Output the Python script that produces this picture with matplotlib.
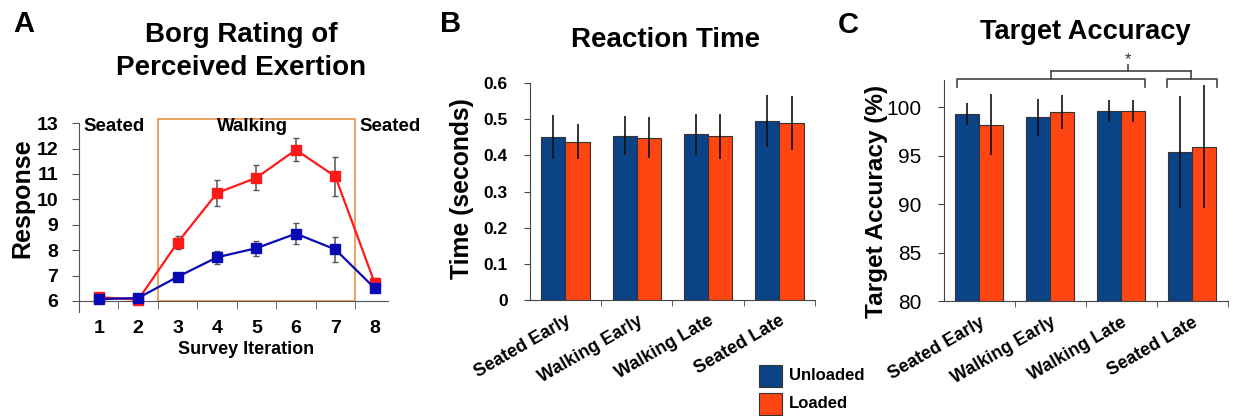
import matplotlib
matplotlib.use("Agg")
import matplotlib.pyplot as plt
from matplotlib.patches import Rectangle
import numpy as np

plt.rcParams['font.family'] = ['Liberation Sans', 'DejaVu Sans']

# ---- Panel A data ----
iterations = [1, 2, 3, 4, 5, 6, 7, 8]
borg_loaded = [6.15, 6.05, 8.3, 10.25, 10.85, 11.95, 10.9, 6.7]
borg_loaded_err = [0.08, 0.05, 0.25, 0.52, 0.5, 0.45, 0.78, 0.2]
borg_unloaded = [6.07, 6.12, 6.95, 7.72, 8.08, 8.65, 8.03, 6.5]
borg_unloaded_err = [0.05, 0.05, 0.1, 0.25, 0.3, 0.4, 0.5, 0.1]

# ---- Panel B/C data ----
conditions = ["Seated Early", "Walking Early", "Walking Late", "Seated Late"]
rt_unloaded = [0.450, 0.455, 0.458, 0.495]
rt_unloaded_err = [0.061, 0.054, 0.058, 0.072]
rt_loaded = [0.438, 0.449, 0.453, 0.490]
rt_loaded_err = [0.048, 0.057, 0.063, 0.075]

acc_unloaded = [99.3, 98.95, 99.6, 95.4]
acc_unloaded_err = [1.1, 1.9, 1.1, 5.75]
acc_loaded = [98.2, 99.5, 99.6, 95.9]
acc_loaded_err = [3.1, 1.75, 1.1, 6.35]

BLUE_LINE = '#0a0ab4'
RED_LINE = '#ff1a1a'
BAR_BLUE = '#0a4386'
BAR_ORANGE = '#ff4512'

fig = plt.figure(figsize=(12.35, 4.16), dpi=100)

# ================= Panel A =================
axA = fig.add_axes([0.064, 0.249, 0.250, 0.455])
axA.errorbar(iterations, borg_loaded, yerr=borg_loaded_err, color=RED_LINE, lw=1.6,
             marker='s', ms=7.5, mfc=RED_LINE, mec=RED_LINE, ecolor='#555555',
             elinewidth=1.1, capsize=2.5, capthick=1.0, zorder=3)
axA.errorbar(iterations, borg_unloaded, yerr=borg_unloaded_err, color=BLUE_LINE, lw=1.6,
             marker='s', ms=7, mfc=BLUE_LINE, mec=BLUE_LINE, ecolor='#555555',
             elinewidth=1.1, capsize=2.5, capthick=1.0, zorder=4)
axA.set_xlim(0.5, 8.33)
axA.set_ylim(5.55, 13)
axA.spines['top'].set_visible(False)
axA.spines['right'].set_visible(False)
axA.spines['bottom'].set_position(('data', 6))
axA.spines['bottom'].set_color('#555555')
axA.spines['left'].set_color('#555555')
axA.set_yticks(range(6, 14))
axA.set_xticks(iterations)
axA.set_xticks(np.arange(1.5, 8.5, 1.0), minor=True)
axA.tick_params(axis='x', which='major', length=0, pad=14, labelsize=14)
axA.tick_params(axis='x', which='minor', length=6, direction='out', color='#555555')
axA.tick_params(axis='y', length=5, color='#555555', labelsize=14, pad=10)
for lab in axA.get_xticklabels() + axA.get_yticklabels():
    lab.set_fontweight('bold')
axA.add_patch(Rectangle((2.5, 6), 5.0, 7.15, fill=False, edgecolor='#e8924a', lw=1.2,
                        clip_on=False, zorder=1))
axA.text(0.62, 12.85, "Seated", fontsize=13.5, fontweight='bold', va='center', ha='left')
axA.text(4.9, 12.85, "Walking", fontsize=13.5, fontweight='bold', va='center', ha='center')
axA.text(7.62, 12.85, "Seated", fontsize=13.5, fontweight='bold', va='center', ha='left',
         clip_on=False)
fig.text(246 / 1235, 1 - 349 / 416, "Survey Iteration", fontsize=13, fontweight='bold',
         ha='center', va='center')
fig.text(22 / 1235, 1 - 198 / 416, "Response", fontsize=18, fontweight='bold',
         ha='center', va='center', rotation=90)
fig.text(241 / 1235, 1 - 35 / 416, "Borg Rating of", fontsize=20, fontweight='bold',
         ha='center', va='center')
fig.text(241 / 1235, 1 - 68 / 416, "Perceived Exertion", fontsize=20, fontweight='bold',
         ha='center', va='center')
fig.text(24 / 1235, 1 - 24 / 416, "A", fontsize=21, fontweight='bold', ha='center', va='center')


def bar_panel(ax, unl, unl_err, lo, lo_err):
    x = np.arange(len(conditions))
    w = 0.34
    ax.bar(x - w / 2, unl, w, color=BAR_BLUE, edgecolor='#333333', lw=0.8, zorder=2)
    ax.bar(x + w / 2, lo, w, color=BAR_ORANGE, edgecolor='#333333', lw=0.8, zorder=2)
    ax.errorbar(x - w / 2, unl, yerr=unl_err, fmt='none', ecolor='#111111', elinewidth=1.2,
                capsize=0, zorder=3)
    ax.errorbar(x + w / 2, lo, yerr=lo_err, fmt='none', ecolor='#111111', elinewidth=1.2,
                capsize=0, zorder=3)
    ax.set_xlim(-0.5, len(conditions) - 0.5)
    ax.spines['top'].set_visible(False)
    ax.spines['right'].set_visible(False)
    ax.spines['left'].set_color('#444444')
    ax.spines['bottom'].set_color('#444444')
    ax.set_xticks(x)
    ax.set_xticklabels(conditions, rotation=30, ha='right', rotation_mode='anchor',
                       fontsize=13, fontweight='bold')
    ax.set_xticks(np.arange(0.5, len(conditions), 1.0), minor=True)
    ax.tick_params(axis='x', which='major', length=0, pad=9)
    ax.tick_params(axis='x', which='minor', length=4, color='#444444')
    ax.tick_params(axis='y', length=4, color='#444444', pad=12)
    return x


# ================= Panel B =================
axB = fig.add_axes([0.429, 0.279, 0.231, 0.521])
bar_panel(axB, rt_unloaded, rt_unloaded_err, rt_loaded, rt_loaded_err)
axB.set_ylim(0, 0.6)
axB.set_yticks([0, 0.1, 0.2, 0.3, 0.4, 0.5, 0.6])
axB.set_yticklabels(['0', '0.1', '0.2', '0.3', '0.4', '0.5', '0.6'])
axB.tick_params(axis='y', labelsize=12.5)
for lab in axB.get_yticklabels():
    lab.set_fontweight('bold')
fig.text(462 / 1235, 1 - 189 / 416, "Time (seconds)", fontsize=17.8, fontweight='bold',
         ha='center', va='center', rotation=90)
fig.text(666 / 1235, 1 - 40 / 416, "Reaction Time", fontsize=20, fontweight='bold',
         ha='center', va='center')
fig.text(451 / 1235, 1 - 24 / 416, "B", fontsize=21, fontweight='bold', ha='center', va='center')

# ================= Panel C =================
axC = fig.add_axes([0.764, 0.276, 0.230, 0.532])
bar_panel(axC, acc_unloaded, acc_unloaded_err, acc_loaded, acc_loaded_err)
axC.set_ylim(80, 102.8)
axC.set_yticks([80, 85, 90, 95, 100])
axC.tick_params(axis='y', labelsize=15, pad=12)
fig.text(877 / 1235, 1 - 201 / 416, "Target Accuracy (%)", fontsize=17.6, fontweight='bold',
         ha='center', va='center', rotation=90)
fig.text(1085 / 1235, 1 - 32 / 416, "Target Accuracy", fontsize=19.6, fontweight='bold',
         ha='center', va='center')
fig.text(848 / 1235, 1 - 25 / 416, "C", fontsize=21, fontweight='bold', ha='center', va='center')


# significance brackets (figure pixel coords)
def px(xp, yp):
    return xp / 1235, 1 - yp / 416


br_col = '#444444'
for (x0, x1) in [(957, 1145), (1167, 1217)]:
    xs = [x0, x0, x1, x1]
    ys = [87, 79, 79, 87]
    fig.add_artist(plt.Line2D([v / 1235 for v in xs], [1 - v / 416 for v in ys],
                              color=br_col, lw=1.2))
for xm in [1051, 1191]:
    fig.add_artist(plt.Line2D([xm / 1235, xm / 1235], [1 - 79 / 416, 1 - 71 / 416],
                              color=br_col, lw=1.2))
fig.add_artist(plt.Line2D([1051 / 1235, 1191 / 1235], [1 - 71 / 416, 1 - 71 / 416],
                          color=br_col, lw=1.2))
fig.add_artist(plt.Line2D([1128 / 1235, 1128 / 1235], [1 - 71 / 416, 1 - 65 / 416],
                          color=br_col, lw=1.2))
fig.text(1128 / 1235, 1 - 60 / 416, "*", fontsize=12, ha='center', va='center', color='#333333')

# ================= Legend =================
fig.add_artist(Rectangle(px(759, 387), 23 / 1235, 22 / 416, transform=fig.transFigure,
                         facecolor=BAR_BLUE, edgecolor='#333333', lw=0.8))
fig.add_artist(Rectangle(px(759, 415), 23 / 1235, 22 / 416, transform=fig.transFigure,
                         facecolor=BAR_ORANGE, edgecolor='#333333', lw=0.8))
fig.text(789 / 1235, 1 - 376 / 416, "Unloaded", fontsize=12, fontweight='bold',
         ha='left', va='center')
fig.text(789 / 1235, 1 - 404 / 416, "Loaded", fontsize=12, fontweight='bold',
         ha='left', va='center')

fig.savefig("out.png", dpi=100)
